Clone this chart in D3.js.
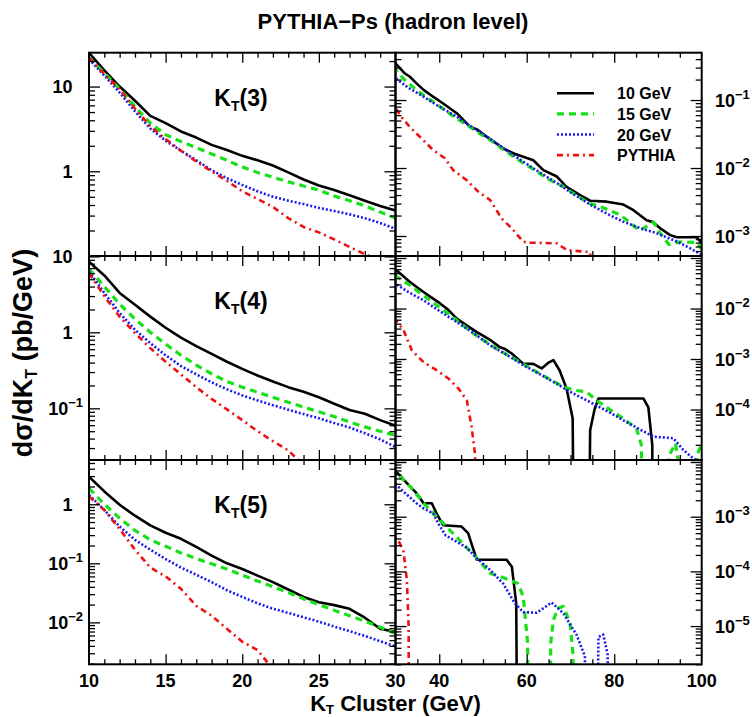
<!DOCTYPE html>
<html><head><meta charset="utf-8">
<script src="https://cdn.jsdelivr.net/npm/d3@7"></script>
<style>body{margin:0;background:#fff}</style>
</head><body><svg id="c" width="752" height="717"></svg>
<script>
// ---------------- DATA ----------------
const titleText = "PYTHIA\u2212Ps (hadron level)";
const legendLabels = ["10 GeV", "15 GeV", "20 GeV", "PYTHIA"];
const panelOrders = ["3", "4", "5"];
const xTickLabelsLeft = [10, 15, 20, 25, 30];
const xTickLabelsRight = [40, 60, 80, 100];
const yTickLabelsLeft = [[10, 1], [10, 1, 0.1], [1, 0.1, 0.01]];
const yTickLabelsRight = [[0.1, 0.01, 0.001], [0.01, 0.001, 1e-4], [0.001, 1e-4, 1e-5]];

// K_T(3) : [K_T cluster (GeV), dσ/dK_T (pb/GeV)], 0 = empty bin
const kt3_10 = [[10,25],[11,15.5],[12,10],[13,6.8],[14,4.5],[15,3.7],[16,2.95],[17,2.5],[18,2.05],[19,1.78],[20,1.52],[21,1.35],[22,1.17],[23,0.97],[24,0.8],[25,0.68],[26,0.6],[27,0.52],[28,0.45],[29,0.39],[30,0.345],[32,0.25],[33.3,0.22],[34.8,0.176],[36.5,0.14],[38.6,0.112],[40.9,0.089],[44,0.064],[47,0.0406],[48.6,0.037],[50.8,0.029],[54.6,0.0195],[56.9,0.0165],[59.2,0.0147],[61.5,0.013],[63.8,0.0093],[66.9,0.0075],[69.1,0.0053],[72.2,0.004],[74.5,0.0033],[78.3,0.0032],[82.1,0.0029],[84.4,0.0024],[87.4,0.0017],[88.9,0.0016],[90.5,0.0013],[92.8,0.00103],[94.3,0.00096],[98.9,0.00096],[100,0.00078]];
const kt3_15 = [[10,22],[11,14.5],[12,9.4],[13,5.8],[14,3.7],[15,2.7],[16,2.25],[17,1.9],[18,1.6],[19,1.35],[20,1.12],[21,0.97],[22,0.85],[23,0.75],[24,0.67],[25,0.6],[26,0.51],[27,0.45],[28,0.39],[29,0.33],[30,0.28],[32,0.2],[34.8,0.14],[37.5,0.105],[40.2,0.08],[43,0.059],[46.3,0.043],[49,0.033],[51.6,0.026],[54,0.02],[56.9,0.0148],[59.5,0.0115],[62.3,0.0089],[65,0.0068],[68.4,0.0053],[71.5,0.0039],[74.5,0.003],[77.5,0.0026],[80.6,0.00215],[82.5,0.0018],[84.5,0.0014],[86,0.0012],[87.5,0.0014],[89,0.0016],[90.5,0.0011],[92.5,0.00075],[95,0.00082],[99,0.0008],[100,0.00063]];
const kt3_20 = [[10,21],[11,13.5],[12,8.5],[13,5.1],[14,3.2],[15,2.3],[16,1.75],[17,1.35],[18,1.03],[19,0.83],[20,0.69],[21,0.58],[22,0.5],[23,0.45],[24,0.41],[25,0.37],[26,0.34],[27,0.31],[28,0.28],[29,0.245],[30,0.21],[33,0.15],[36.4,0.112],[40,0.08],[44,0.057],[48,0.038],[51.6,0.027],[55.5,0.018],[59.2,0.0124],[63,0.0086],[66.9,0.006],[70.5,0.0042],[74.5,0.0029],[78.5,0.0021],[82.1,0.00162],[86,0.0013],[89.7,0.0011],[94.3,0.00083],[97,0.00068],[100,0.00053]];
const kt3_py = [[10,22],[11,14],[12,9.3],[13,5.5],[14,3.4],[15,2.4],[16,1.75],[17,1.3],[18,1.0],[19,0.77],[20,0.58],[21,0.47],[22,0.38],[23,0.28],[24,0.22],[25,0.19],[26,0.157],[27,0.128],[28,0.105],[29,0.09],[30,0.076],[31.5,0.055],[33.3,0.04],[36,0.027],[38.6,0.0184],[41.3,0.0139],[43.2,0.0093],[46.3,0.0066],[48.9,0.0045],[51.6,0.0034],[54.3,0.0018],[56.9,0.00123],[59.2,0.00082],[60.7,0.0008],[66.9,0.00078],[69.2,0.00062],[74.5,0.00058],[75,0]];

// K_T(4)
const kt4_10 = [[10,8.5],[11,5.6],[12,3.3],[13,2.3],[14,1.61],[15,1.15],[16,0.85],[17,0.66],[18,0.52],[19,0.41],[20,0.33],[21,0.27],[22,0.225],[23,0.19],[24,0.165],[25,0.14],[26,0.115],[27,0.095],[28,0.085],[29,0.07],[30,0.059],[33.3,0.0336],[36.4,0.0213],[38,0.017],[40.2,0.0126],[42,0.0095],[44,0.0063],[46,0.0048],[48.6,0.0034],[50,0.0029],[51.6,0.0024],[53.9,0.0017],[54.9,0.0016],[56.5,0.0013],[59.2,0.00081],[61.5,0.0008],[63.4,0.00065],[65,0.00085],[66.1,0.00095],[67.5,0.0006],[69.1,0.00026],[70.5,0.000067],[71.3,0],[73.6,0],[74.5,0.000039],[75.5,0.0001],[76.4,0.000165],[86.7,0.000165],[87.8,0.00011],[88.7,0.00002],[89,0]];
const kt4_15 = [[10,6.8],[11,4.0],[12,2.35],[13,1.5],[14,1.0],[15,0.7],[16,0.5],[17,0.37],[18,0.285],[19,0.225],[20,0.19],[21,0.163],[22,0.14],[23,0.12],[24,0.104],[25,0.09],[26,0.078],[27,0.066],[28,0.057],[29,0.05],[30,0.044],[33.3,0.029],[37.9,0.0145],[42.5,0.0074],[47.8,0.0032],[53.1,0.0016],[57.7,0.00095],[63,0.00051],[68.4,0.00028],[71,0.00024],[73.7,0.000224],[76,0.00015],[79,0.0001],[82.1,0.000066],[85.1,0.000042],[86.2,0.00002],[86.8,0],[91.8,0],[92.5,0.000012],[94,0.0000213],[94.6,0.00001],[95.2,0],[98.3,0],[99,0.000013],[100,0.000021]];
const kt4_20 = [[10,6.3],[11,3.3],[12,1.8],[13,1.08],[14,0.72],[15,0.5],[16,0.36],[17,0.28],[18,0.22],[19,0.178],[20,0.148],[21,0.127],[22,0.11],[23,0.096],[24,0.084],[25,0.074],[26,0.064],[27,0.056],[28,0.047],[29,0.039],[30,0.031],[33,0.021],[36.4,0.0145],[40,0.009],[44,0.0054],[48,0.0032],[51.6,0.00187],[55.5,0.0012],[59.2,0.00076],[63,0.0005],[66.9,0.00032],[70.5,0.00021],[74.5,0.00014],[78.5,0.000092],[82.1,0.000061],[85.5,0.000042],[88.9,0.000029],[93.5,0.000027],[95.8,0.0000158],[98.1,0.0000107],[100,0.000009]];
const kt4_py = [[10,6],[11,3.0],[12,1.6],[13,0.98],[14,0.62],[15,0.41],[16,0.28],[17,0.19],[18,0.133],[19,0.097],[20,0.07],[21,0.05],[22,0.037],[23,0.028],[24,0.018],[25,0.013],[26,0.01],[27,0.0085],[28,0.0075],[29,0.0066],[30,0.0059],[31.8,0.0038],[33.7,0.0015],[36.4,0.00087],[39.4,0.0006],[42.1,0.00041],[44.4,0.00026],[46.3,0.000153],[47.4,0.000045],[48.2,0.0000126],[48.5,0]];

// K_T(5)
const kt5_10 = [[10,2.94],[11,1.65],[12,0.98],[13,0.64],[14,0.44],[15,0.33],[16,0.26],[17,0.19],[18,0.135],[19,0.1],[20,0.08],[21,0.062],[22,0.048],[23,0.036],[24,0.027],[25,0.022],[26,0.0196],[27,0.017],[28,0.012],[29,0.0078],[30,0.0069],[32.6,0.0041],[34.8,0.0027],[36.4,0.00176],[38.3,0.00176],[39.5,0.0011],[40.9,0.0007],[45.1,0.00066],[46.6,0.0005],[47.5,0.0003],[48.6,0.000163],[55.4,0.000163],[56.6,0.000122],[57.6,0.000026],[58.2,0]];
const kt5_15 = [[10,1.86],[11,1.0],[12,0.58],[13,0.36],[14,0.25],[15,0.195],[16,0.15],[17,0.12],[18,0.098],[19,0.08],[20,0.063],[21,0.05],[22,0.04],[23,0.032],[24,0.025],[25,0.02],[26,0.016],[27,0.013],[28,0.0105],[29,0.0083],[30,0.0065],[33.3,0.0036],[37.1,0.00154],[40.9,0.00076],[44.7,0.00037],[48.6,0.000174],[51.6,0.000093],[55,0.000075],[58,0.00006],[59.2,0.000035],[60.2,0.000005],[60.8,0],[64.8,0],[65.5,0.000005],[66.1,0.000013],[67.2,0.0000213],[68.4,0.000023],[69.9,0.0000112],[70.6,0.000003],[71,0]];
const kt5_20 = [[10,1.44],[11,0.8],[12,0.42],[13,0.25],[14,0.17],[15,0.118],[16,0.085],[17,0.064],[18,0.048],[19,0.035],[20,0.027],[21,0.021],[22,0.017],[23,0.0145],[24,0.0122],[25,0.0103],[26,0.0085],[27,0.0071],[28,0.0059],[29,0.0048],[30,0.0039],[34.8,0.00176],[36.5,0.0014],[38.6,0.00115],[40,0.0007],[41.5,0.00045],[44,0.00035],[46.3,0.00027],[48.6,0.000174],[51.6,0.000107],[54.6,0.00006],[57.3,0.000026],[59.2,0.000018],[62.3,0.0000175],[65.7,0.000027],[68.4,0.000017],[71.4,0.0000069],[73.3,0.0000028],[73.8,0],[75.4,0],[76.4,0.0000063],[77.5,0.000007],[78.5,0.000003],[79.2,0]];
const kt5_py = [[10,1.35],[11,0.8],[12,0.38],[13,0.17],[14,0.085],[15,0.06],[16,0.037],[17,0.019],[18,0.013],[19,0.0078],[20,0.0047],[21,0.0034],[22,0.0016],[24,0.0008],[27,0.0005],[30,0.00042],[30.6,0.00037],[31.8,0.000244],[32.6,0.000069],[33,0.00001],[33.2,0]];

const seriesByRow = [
  [kt3_10, kt3_15, kt3_20, kt3_py],
  [kt4_10, kt4_15, kt4_20, kt4_py],
  [kt5_10, kt5_15, kt5_20, kt5_py]
];

// ---------------- LAYOUT / STYLE ----------------
const FONT = "'Liberation Sans', Arial, Helvetica, sans-serif";
const styles = [
  {color: "#000000", dash: null, w: 2.6},
  {color: "#18e018", dash: "7,5", w: 3.2},
  {color: "#1a1aee", dash: "2,2", w: 2.6},
  {color: "#ee1111", dash: "6,4,2,4", w: 2.6}
];
const cols = [
  {x0: 89, x1: 395.5, dom: [10, 30], maj: [15, 20, 25], min: d3.range(11, 30).filter(v => v % 5 !== 0)},
  {x0: 395.5, x1: 701.7, dom: [30, 100], maj: [40, 60, 80], min: [35, 45, 50, 55, 65, 70, 75, 85, 90, 95]}
];
const rows = [{y0: 52.7, y1: 256}, {y0: 256, y1: 460}, {y0: 460, y1: 664.3}];
const yDoms = [
  [[0.1, 25.1], [5.08e-4, 0.497]],
  [[0.0209, 10.1], [1.0e-5, 0.1096]],
  [[0.00195, 5.62], [2.0e-6, 0.01089]]
];

const svg = d3.select("#c");
svg.append("rect").attr("width", 752).attr("height", 717).attr("fill", "#fff");

function logTicks(dom) {
  const [lo, hi] = dom; const maj = [], min = [];
  for (let e = Math.floor(Math.log10(lo)) - 1; e <= Math.ceil(Math.log10(hi)); e++) {
    for (let m = 1; m < 10; m++) {
      const v = m * Math.pow(10, e);
      if (v >= lo * 0.999 && v <= hi * 1.001) (m === 1 ? maj : min).push(v);
    }
  }
  return {maj, min};
}

function tickGroup(g, axis, transform) {
  g.append("g").attr("transform", transform).call(axis)
    .call(s => s.select(".domain").remove())
    .call(s => s.selectAll("text").remove())
    .selectAll("line").attr("stroke", "#000").attr("stroke-width", 1.3);
}

function expText(sel, v, x, y, anchor) {
  const e = Math.round(Math.log10(v));
  const t = sel.append("text").attr("x", x).attr("y", y).attr("text-anchor", anchor)
    .attr("font-family", FONT).attr("font-weight", "bold").attr("font-size", 18).attr("fill", "#000");
  if (e === 0) t.text("1");
  else if (e === 1) t.text("10");
  else {
    t.append("tspan").text("10");
    t.append("tspan").attr("dy", -8).attr("font-size", 13).text("\u2212" + (-e));
  }
}

const line = (x, y) => d3.line().x(d => x(d[0])).y(d => y(Math.max(d[1], 1e-12)));

rows.forEach((r, ri) => {
  cols.forEach((c, ci) => {
    const x = d3.scaleLinear().domain(c.dom).range([c.x0, c.x1]);
    const y = d3.scaleLog().domain(yDoms[ri][ci]).range([r.y1, r.y0]);
    const g = svg.append("g");
    const cid = `clip${ri}${ci}`;
    svg.append("clipPath").attr("id", cid).append("rect")
      .attr("x", c.x0).attr("y", r.y0).attr("width", c.x1 - c.x0).attr("height", r.y1 - r.y0);

    // curves
    const cg = g.append("g").attr("clip-path", `url(#${cid})`);
    seriesByRow[ri].forEach((s, si) => {
      const st = styles[si];
      cg.append("path").datum(s).attr("d", line(x, y))
        .attr("fill", "none").attr("stroke", st.color).attr("stroke-width", st.w)
        .attr("stroke-dasharray", st.dash).attr("stroke-linejoin", "round");
    });

    // x ticks (top & bottom, inward)
    tickGroup(g, d3.axisBottom(x).tickValues(c.min).tickSize(5), `translate(0,${r.y0})`);
    tickGroup(g, d3.axisBottom(x).tickValues(c.maj).tickSize(10), `translate(0,${r.y0})`);
    tickGroup(g, d3.axisTop(x).tickValues(c.min).tickSize(5), `translate(0,${r.y1})`);
    tickGroup(g, d3.axisTop(x).tickValues(c.maj).tickSize(10), `translate(0,${r.y1})`);
    // y ticks (left & right, inward)
    const lt = logTicks(yDoms[ri][ci]);
    tickGroup(g, d3.axisRight(y).tickValues(lt.min).tickSize(6), `translate(${c.x0},0)`);
    tickGroup(g, d3.axisRight(y).tickValues(lt.maj).tickSize(11), `translate(${c.x0},0)`);
    tickGroup(g, d3.axisLeft(y).tickValues(lt.min).tickSize(6), `translate(${c.x1},0)`);
    tickGroup(g, d3.axisLeft(y).tickValues(lt.maj).tickSize(11), `translate(${c.x1},0)`);

    // frame
    g.append("rect").attr("x", c.x0).attr("y", r.y0).attr("width", c.x1 - c.x0).attr("height", r.y1 - r.y0)
      .attr("fill", "none").attr("stroke", "#000").attr("stroke-width", 2);

    // y tick labels
    if (ci === 0) {
      yTickLabelsLeft[ri].forEach(v => {
        const e = Math.round(Math.log10(v));
        expText(svg, v, e < 0 ? 83 : 72.5, y(v) + 6.5, "end");
      });
    } else {
      yTickLabelsRight[ri].forEach(v => expText(svg, v, 715, y(v) + 6.5, "start"));
    }

    // x tick labels
    if (ri === 2) {
      const labs = ci === 0 ? xTickLabelsLeft : xTickLabelsRight;
      labs.forEach(v => {
        svg.append("text").attr("x", x(v)).attr("y", 687).attr("text-anchor", "middle")
          .attr("font-family", FONT).attr("font-weight", "bold").attr("font-size", 18).text(v);
      });
    }

    // panel label
    if (ci === 0) {
      const t = svg.append("text").attr("x", 241).attr("y", r.y0 + 53).attr("text-anchor", "middle")
        .attr("font-family", FONT).attr("font-weight", "bold").attr("font-size", 23);
      t.append("tspan").text("K");
      t.append("tspan").attr("dy", 5).attr("font-size", 14).text("T");
      t.append("tspan").attr("dy", -5).text("(" + panelOrders[ri] + ")");
    }

    // legend
    if (ri === 0 && ci === 1) {
      legendLabels.forEach((lab, i) => {
        const ly = 93.3 + i * 20.6;
        const st = styles[i];
        svg.append("line").attr("x1", 557).attr("x2", 594).attr("y1", ly).attr("y2", ly)
          .attr("stroke", st.color).attr("stroke-width", st.w).attr("stroke-dasharray", st.dash);
        svg.append("text").attr("x", 617).attr("y", ly + 6).attr("font-family", FONT)
          .attr("font-weight", "bold").attr("font-size", 16).text(lab);
      });
    }
  });
});

// title
svg.append("text").attr("x", 393).attr("y", 29).attr("text-anchor", "middle")
  .attr("font-family", FONT).attr("font-weight", "bold").attr("font-size", 22).text(titleText);

// x axis title
const xt = svg.append("text").attr("x", 395.5).attr("y", 711).attr("text-anchor", "middle")
  .attr("font-family", FONT).attr("font-weight", "bold").attr("font-size", 22);
xt.append("tspan").text("K");
xt.append("tspan").attr("dy", 2.5).attr("font-size", 13).text("T");
xt.append("tspan").attr("dy", -2.5).text(" Cluster (GeV)");

// y axis title
const yt = svg.append("text").attr("transform", "translate(32,353) rotate(-90)").attr("text-anchor", "middle")
  .attr("font-family", FONT).attr("font-weight", "bold").attr("font-size", 27);
yt.append("tspan").text("d\u03c3/dK");
yt.append("tspan").attr("dy", 5).attr("font-size", 16).text("T");
yt.append("tspan").attr("dy", -5).text(" (pb/GeV)");
</script>
</body></html>
